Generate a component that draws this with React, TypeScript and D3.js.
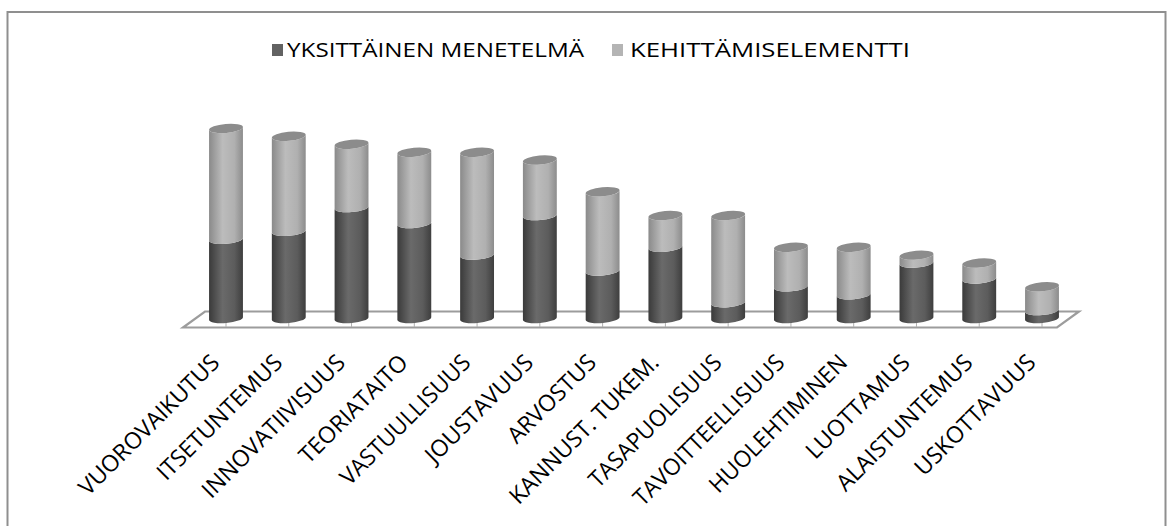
import React from "react";
import * as d3 from "d3";

// ---- data ----
const categories = [
  "VUOROVAIKUTUS",
  "ITSETUNTEMUS",
  "INNOVATIIVISUUS",
  "TEORIATAITO",
  "VASTUULLISUUS",
  "JOUSTAVUUS",
  "ARVOSTUS",
  "KANNUST. TUKEM.",
  "TASAPUOLISUUS",
  "TAVOITTEELLISUUS",
  "HUOLEHTIMINEN",
  "LUOTTAMUS",
  "ALAISTUNTEMUS",
  "USKOTTAVUUS",
];
const seriesNames = ["YKSITTÄINEN MENETELMÄ", "KEHITTÄMISELEMENTTI"];
const yksittainenMenetelma = [10, 11, 14, 12, 8, 13, 6, 9, 2, 4, 3, 7, 5, 1];
const kehittamiselementti = [14, 12, 8, 9, 13, 7, 10, 4, 11, 5, 6, 1, 2, 3];

// ---- layout ----
const W = 1168;
const H = 526;
const RX = 17;
const RY = 4.5;
const PHI = -5; // degrees, tilt of ellipses
const LABEL_EM = 26; // label advance scale (Calibri-like proportions)

// Calibri-like relative advance widths, used to size the rotated labels
const glyphW: Record<string, number> = {
  A: 0.579, B: 0.544, C: 0.533, D: 0.615, E: 0.488, F: 0.459, G: 0.631, H: 0.623,
  I: 0.252, J: 0.319, K: 0.52, L: 0.42, M: 0.855, N: 0.646, O: 0.662, P: 0.517,
  R: 0.543, S: 0.459, T: 0.487, U: 0.642, V: 0.567, Y: 0.519, "Ä": 0.579, " ": 0.226, ".": 0.252,
};
const textW = (t: string) => t.split("").reduce((a, ch) => a + (glyphW[ch] ?? 0.55), 0) * LABEL_EM;

const rows = categories.map((c, i) => ({
  cat: c,
  [seriesNames[0]]: yksittainenMenetelma[i],
  [seriesNames[1]]: kehittamiselementti[i],
}));
const stacked = d3.stack<any>().keys(seriesNames)(rows);

const x = d3.scalePoint<string>().domain(categories).range([226, 1042]);
const y = d3.scaleLinear().domain([0, 24]).range([318.5, 128.4]);

const bodyGrad = ["gDark", "gLight"];
const topFill = ["#5a5a5a", "#8c8c8c"];
const legendFill = ["#626262", "#b4b4b4"];

function segPath(cx: number, y0: number, y1: number) {
  const a = (PHI * Math.PI) / 180;
  const c = Math.cos(a);
  const s = Math.sin(a);
  const lx = cx - RX * c;
  const rx = cx + RX * c;
  return (
    `M${lx},${y1 - RX * s}L${lx},${y0 - RX * s}` +
    `A${RX},${RY} ${PHI} 0 0 ${rx},${y0 + RX * s}` +
    `L${rx},${y1 + RX * s}` +
    `A${RX},${RY} ${PHI} 0 1 ${lx},${y1 - RX * s}Z`
  );
}

export default function App() {
  const first = x(categories[0])!;
  const last = x(categories[categories.length - 1])!;
  const floorFrontY = 327.5;
  const floorBackY = 311.5;
  const floor = `M${first - 43},${floorFrontY}L${last + 15},${floorFrontY}L${last + 37},${floorBackY}L${first - 21},${floorBackY}Z`;
  const lastSeries = stacked.length - 1;

  return (
    <svg
      width={W}
      height={H}
      style={{ position: "absolute", left: 0, top: 0, display: "block", background: "#fff" }}
    >
      <defs>
        <linearGradient id="gDark" x1="0" x2="1" y1="0" y2="0">
          <stop offset="0" stopColor="#3a3a3a" />
          <stop offset="0.4" stopColor="#6a6a6a" />
          <stop offset="0.75" stopColor="#5c5c5c" />
          <stop offset="1" stopColor="#3e3e3e" />
        </linearGradient>
        <linearGradient id="gLight" x1="0" x2="1" y1="0" y2="0">
          <stop offset="0" stopColor="#8a8a8a" />
          <stop offset="0.4" stopColor="#bcbcbc" />
          <stop offset="0.75" stopColor="#b0b0b0" />
          <stop offset="1" stopColor="#8c8c8c" />
        </linearGradient>
      </defs>

      <rect x={7.5} y={12} width={1158} height={530} fill="#fff" stroke="#8f8f8f" strokeWidth={2} />

      {/* legend */}
      <g fontFamily="'Open Sans', 'Noto Sans', sans-serif" fontSize={20} fill="#000">
        <rect x={272} y={44} width={11} height={12} fill={legendFill[0]} />
        <text x={287} y={57} textLength={297} lengthAdjust="spacingAndGlyphs">
          {seriesNames[0]}
        </text>
        <rect x={612} y={44} width={11} height={12} fill={legendFill[1]} />
        <text x={630} y={57} textLength={280} lengthAdjust="spacingAndGlyphs">
          {seriesNames[1]}
        </text>
      </g>

      {/* floor */}
      <path d={floor} fill="#fff" stroke="#9c9c9c" strokeWidth={2.2} strokeLinejoin="miter" />
      {categories.map((c) => (
        <line key={"t" + c} x1={x(c)} x2={x(c)} y1={321} y2={327} stroke="#b0b0b0" strokeWidth={1} />
      ))}

      {/* cylinders */}
      {categories.map((c, i) => {
        const cx = x(c)!;
        return (
          <g key={c}>
            {stacked.map((s, si) => (
              <path key={si} d={segPath(cx, y(s[i][0]), y(s[i][1]))} fill={`url(#${bodyGrad[si]})`} />
            ))}
            <ellipse
              cx={cx}
              cy={y(stacked[lastSeries][i][1])}
              rx={RX}
              ry={RY}
              fill={topFill[lastSeries]}
              transform={`rotate(${PHI},${cx},${y(stacked[lastSeries][i][1])})`}
            />
          </g>
        );
      })}

      {/* category labels */}
      <g fontFamily="'Open Sans', 'Noto Sans', sans-serif" fontSize={23} fill="#000">
        {categories.map((c) => {
          const len = textW(c);
          return (
            <text
              key={"l" + c}
              transform={`translate(${x(c)! - 5},364) rotate(-45)`}
              x={-len}
              textLength={len}
              lengthAdjust="spacingAndGlyphs"
            >
              {c}
            </text>
          );
        })}
      </g>
    </svg>
  );
}
